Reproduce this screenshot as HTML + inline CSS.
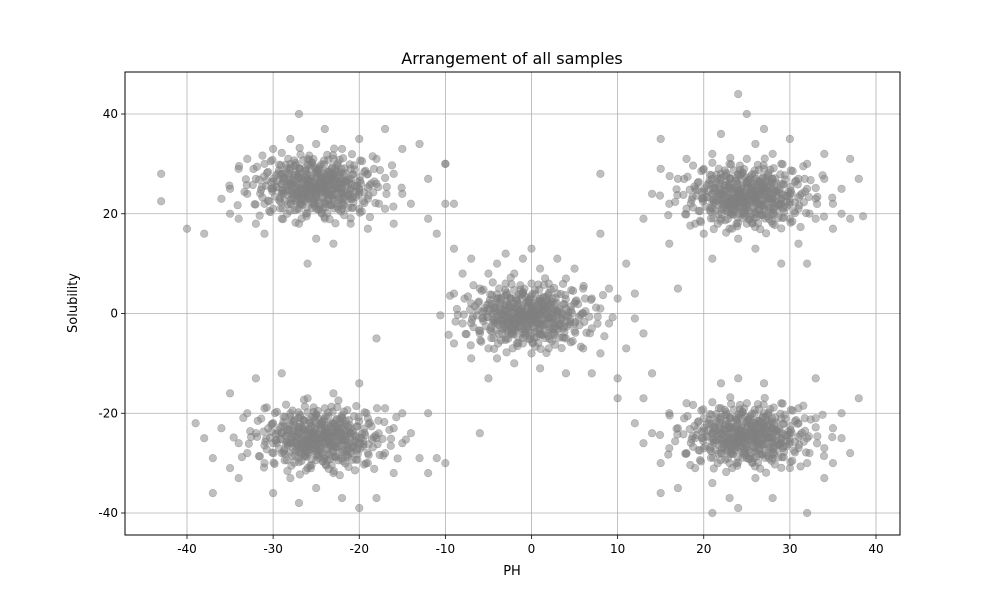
<!DOCTYPE html>
<html><head><meta charset="utf-8"><style>
html,body{margin:0;padding:0;background:#fff;width:1000px;height:600px;overflow:hidden}
text{font-family:"DejaVu Sans","Liberation Sans",sans-serif}
</style></head><body>
<svg id="chart" width="1000" height="600" xmlns="http://www.w3.org/2000/svg">
<rect width="1000" height="600" fill="#fff"/>
<text x="512" y="64" font-size="16" text-anchor="middle">Arrangement of all samples</text>
<g id="grid"></g><g id="pts"></g><g id="axes"></g>
<text x="512" y="575" font-size="13" text-anchor="middle">PH</text>
<text x="77" y="303" font-size="13" text-anchor="middle" transform="rotate(-90 77 303)">Solubility</text>
</svg>
<script>
const xTicks=[-40,-30,-20,-10,0,10,20,30,40];
const yTicks=[-40,-20,0,20,40];
const clusterTopLeft=[[-43,28],[-43,22.5],[-40,17],[-38,16],[-36,23],[-35,25],[-35,20],[-34,29],[-34,19],[-33,31],[-33,24],[-32,27],[-32,18],[-31,22],[-31,30],[-31,16],[-30,25],[-30,21],[-30,33],[-29,28],[-29,19],[-29,24],[-28,35],[-28,26],[-28,22],[-28,30],[-27,40],[-27,24],[-27,28],[-27,18],[-27,21],[-26,26],[-26,31],[-26,23],[-26,10],[-26,27],[-25,25],[-25,29],[-25,21],[-25,34],[-25,24],[-25,15],[-24,27],[-24,22],[-24,26],[-24,37],[-24,19],[-23,25],[-23,28],[-23,23],[-23,31],[-23,14],[-22,26],[-22,21],[-22,24],[-22,33],[-21,27],[-21,23],[-21,18],[-21,29],[-20,25],[-20,35],[-20,21],[-19,28],[-19,17],[-19,23],[-18,31],[-18,26],[-17,37],[-17,21],[-16,28],[-16,18],[-15,24],[-15,33],[-14,22],[-13,34],[-12,27],[-12,19],[-11,16],[-10,30],[-10,22]];
const clusterTopRight=[[13,19],[14,24],[15,29],[15,35],[16,22],[16,14],[17,27],[17,5],[18,21],[18,31],[19,25],[19,18],[20,23],[20,29],[20,16],[21,27],[21,21],[21,32],[21,11],[22,24],[22,19],[22,36],[22,28],[23,22],[23,26],[23,17],[23,30],[24,44],[24,24],[24,20],[24,28],[24,15],[25,22],[25,26],[25,40],[25,18],[25,31],[26,23],[26,27],[26,20],[26,34],[26,13],[27,25],[27,21],[27,29],[27,37],[28,23],[28,18],[28,27],[28,32],[29,22],[29,26],[29,10],[29,30],[30,24],[30,19],[30,35],[31,27],[31,21],[31,14],[32,25],[32,10],[32,30],[33,23],[33,19],[34,27],[34,32],[35,22],[35,17],[36,25],[36,20],[37,31],[37,19],[38,27],[38.5,19.5]];
const clusterCenter=[[-10,30],[-9,22],[-9,13],[-9,4],[-9,-6],[-8,8],[-8,-2],[-7,2],[-7,-9],[-7,11],[-6,5],[-6,-4],[-6,-24],[-5,1],[-5,8],[-5,-7],[-5,-13],[-4,3],[-4,-2],[-4,10],[-4,-9],[-3,0],[-3,6],[-3,-5],[-3,12],[-2,2],[-2,-3],[-2,8],[-2,-10],[-1,0],[-1,4],[-1,-6],[-1,11],[0,1],[0,-2],[0,6],[0,-8],[0,13],[1,0],[1,3],[1,-4],[1,9],[1,-11],[2,2],[2,-1],[2,6],[2,-7],[3,0],[3,4],[3,-3],[3,11],[4,1],[4,-5],[4,7],[4,-12],[5,2],[5,-2],[5,9],[6,0],[6,5],[6,-7],[7,3],[7,-3],[7,-12],[8,1],[8,28],[8,16],[8,-8],[9,-2],[9,5],[10,3],[10,-13],[11,-7],[11,10],[12,4],[12,-1],[13,-4]];
const clusterBottomLeft=[[-39,-22],[-38,-25],[-37,-36],[-37,-29],[-36,-23],[-35,-31],[-35,-16],[-34,-26],[-34,-33],[-33,-20],[-33,-28],[-32,-24],[-32,-13],[-31,-30],[-31,-19],[-30,-26],[-30,-36],[-30,-22],[-29,-12],[-29,-28],[-29,-24],[-28,-33],[-28,-20],[-28,-26],[-27,-38],[-27,-23],[-27,-29],[-26,-17],[-26,-25],[-26,-31],[-25,-22],[-25,-27],[-25,-35],[-24,-19],[-24,-24],[-24,-29],[-23,-16],[-23,-26],[-23,-32],[-22,-21],[-22,-25],[-22,-37],[-21,-28],[-21,-23],[-20,-14],[-20,-26],[-20,-39],[-19,-30],[-19,-21],[-18,-5],[-18,-25],[-18,-37],[-17,-28],[-17,-19],[-16,-23],[-16,-32],[-15,-26],[-15,-20],[-14,-24],[-13,-29],[-12,-20],[-12,-32],[-11,-29],[-10,-30]];
const clusterBottomRight=[[10,-17],[12,-22],[13,-17],[13,-26],[14,-12],[14,-24],[15,-36],[15,-30],[16,-20],[16,-27],[17,-35],[17,-23],[18,-28],[18,-18],[19,-25],[19,-31],[20,-21],[20,-27],[21,-24],[21,-34],[21,-40],[22,-19],[22,-28],[22,-14],[23,-23],[23,-30],[23,-37],[24,-21],[24,-26],[24,-39],[24,-13],[25,-24],[25,-29],[25,-18],[26,-22],[26,-27],[26,-33],[27,-20],[27,-25],[27,-14],[28,-23],[28,-29],[28,-37],[29,-21],[29,-26],[29,-18],[30,-24],[30,-31],[31,-22],[31,-27],[31,-19],[32,-25],[32,-40],[32,-30],[33,-13],[33,-21],[34,-27],[34,-33],[35,-23],[35,-30],[36,-20],[36,-25],[37,-28],[38,-17]];
const clusterCenters=[[-25,25.5],[25,23.5],[-0.5,-0.5],[-24.5,-25],[25,-24.5]];
const coreOffsets=[[0,0],[0.8,0.6],[-0.9,0.4],[0.3,-0.9],[-0.4,-0.7],[1.6,0.2],[-1.7,-0.3],[0.5,1.7],[-0.6,1.5],[1.2,-1.6],[-1.3,-1.5],[2.4,1.1],[-2.5,0.9],[2.2,-0.8],[-2.3,-1.1],[0.9,2.6],[-1.1,2.5],[1.4,-2.7],[-0.8,-2.6],[3.1,0.4],[-3.2,0.3],[3.0,-0.6],[-3.1,-0.7],[0.2,3.3],[-0.3,-3.4],[2.7,2.3],[-2.6,2.2],[2.8,-2.4],[-2.7,-2.3],[3.8,1.3],[-3.9,1.6],[3.7,-1.7],[-3.8,-1.4],[1.8,3.6],[-1.9,3.5],[1.7,-3.8],[-1.6,-3.7],[4.5,0.1],[-4.6,-0.2],[4.3,2.4],[-4.4,2.6],[4.2,-2.5],[-4.3,-2.8],[0.6,4.4],[-0.7,4.3],[0.8,-4.5],[-0.5,-4.4],[3.3,3.6],[-3.4,3.5],[3.2,-3.7],[-3.3,-3.6],[5.1,1.1],[-5.2,0.8],[5.0,-1.2],[-5.1,-1.0],[2.5,4.6],[-2.4,4.7],[2.6,-4.6],[-2.5,-4.8],[1.3,1.2],[-1.4,1.1],[1.1,-1.3],[-1.2,-1.2],[2.0,0.9],[-2.0,-0.4],[0.1,2.1],[0.0,-2.0],[1.9,1.9],[-1.8,1.8],[1.8,-2.0],[-2.0,-1.9],[3.5,0.9],[-3.6,-0.9],[0.4,3.9],[-0.2,-3.9],[4.0,-0.4],[-4.0,0.5],[5.6,2.9],[-5.7,2.7],[5.5,-3.0],[-5.6,-2.9],[3.9,4.4],[-4.1,4.2],[4.1,-4.3],[-3.9,-4.4],[6.2,0.2],[-6.3,-0.1],[1.4,5.3],[-1.5,5.2],[1.3,-5.4],[-1.2,-5.5],[0.6,0.3],[-0.4,0.9],[0.9,-0.2],[-0.7,-0.5],[2.9,1.5],[-2.9,-1.6],[1.5,2.9],[-1.6,-2.9],[2.3,3.1],[-2.2,-3.1]];
const coreLayers=[[1.0,1.0],[-1.3,1.2],[1.6,-1.4],[-0.75,-0.8]];
const X0=125,X1=900,Y0=72,Y1=535;
const xs=v=>531.5+v*8.6125;
const ys=v=>313.5-v*4.9875;
const NS="http://www.w3.org/2000/svg";
function mk(tag,attrs,parent){const e=document.createElementNS(NS,tag);for(const k in attrs)e.setAttribute(k,attrs[k]);parent.appendChild(e);return e;}
const grid=document.getElementById('grid'),axes=document.getElementById('axes'),pts=document.getElementById('pts');
xTicks.forEach(t=>{const x=xs(t);
 const g=mk('line',{x1:x,x2:x,y1:Y0,y2:Y1,stroke:'#b0b0b0','stroke-width':0.8},grid);
 
 
 mk('line',{x1:x,x2:x,y1:Y1,y2:Y1+4,stroke:'#000','stroke-width':0.8},axes);
 const l=mk('text',{x:x,y:Y1+18,'font-size':12,'text-anchor':'middle'},axes);l.textContent=t;
 
 });
yTicks.forEach(t=>{const y=ys(t);
 const g=mk('line',{x1:X0,x2:X1,y1:y,y2:y,stroke:'#b0b0b0','stroke-width':0.8},grid);
 
 
 mk('line',{x1:X0-4,x2:X0,y1:y,y2:y,stroke:'#000','stroke-width':0.8},axes);
 const l=mk('text',{x:X0-7,y:y+4,'font-size':12,'text-anchor':'end'},axes);l.textContent=t;
 
 });
const fr=mk('rect',{x:X0,y:Y0,width:X1-X0,height:Y1-Y0,fill:'none',stroke:'#000','stroke-width':1},axes);


function dot(x,y){
 const c=mk('circle',{cx:xs(x),cy:ys(y),r:3.8,fill:'#808080','fill-opacity':0.5,stroke:'#808080','stroke-opacity':0.5,'stroke-width':0.6},pts);
 
 
}
[clusterTopLeft,clusterTopRight,clusterCenter,clusterBottomLeft,clusterBottomRight].forEach(arr=>arr.forEach(p=>dot(p[0],p[1])));
clusterCenters.forEach(c=>coreLayers.forEach(s=>coreOffsets.forEach(o=>dot(c[0]+o[0]*s[0],c[1]+o[1]*s[1]))));
</script>
</body></html>
